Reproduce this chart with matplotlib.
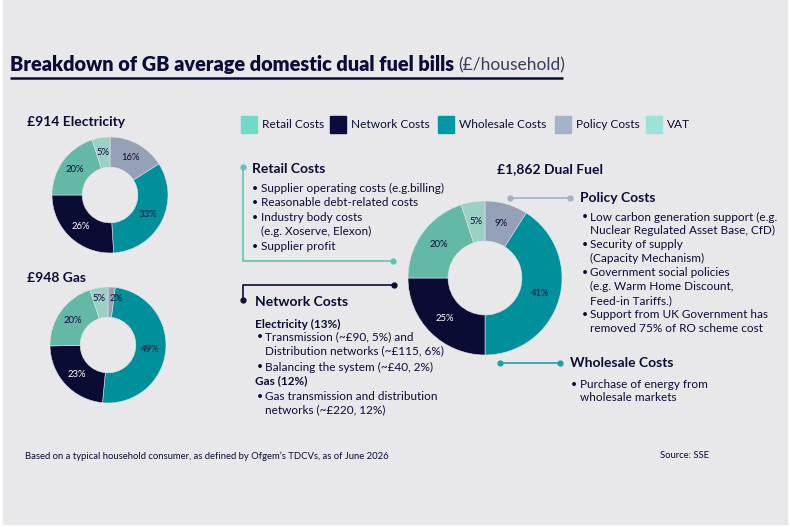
import matplotlib.pyplot as plt
from matplotlib.patches import Rectangle

plt.rcParams['font.family'] = ['Lato', 'DejaVu Sans']

W, H = 790, 527
NAVY = '#0b0c36'

# data, clockwise from 12 o'clock
categories = ['Policy Costs', 'Wholesale Costs', 'Network Costs', 'Retail Costs', 'VAT']
electricity = [16, 33, 26, 20, 5]
gas = [2, 49, 23, 20, 5]
dual_fuel = [9, 41, 25, 20, 5]
wedge_colors = ['#95a1b6', '#00909c', '#0b0c33', '#64b9a6', '#9cd0c5']

legend_labels = ['Retail Costs', 'Network Costs', 'Wholesale Costs', 'Policy Costs', 'VAT']
legend_colors = ['#6fdac8', '#0b0b42', '#0098a6', '#a4b3c9', '#9de2d6']

retail_items = ['Supplier operating costs (e.g.billing)',
                'Reasonable debt-related costs',
                'Industry body costs\n(e.g. Xoserve, Elexon)',
                'Supplier profit']
policy_items = ['Low carbon generation support (e.g.\nNuclear Regulated Asset Base, CfD)',
                'Security of supply\n(Capacity Mechanism)',
                'Government social policies\n(e.g. Warm Home Discount,\nFeed-in Tariffs.)',
                'Support from UK Government has\nremoved 75% of RO scheme cost']
wholesale_items = ['Purchase of energy from\nwholesale markets']

fig = plt.figure(figsize=(W / 100, H / 100), dpi=100, facecolor='white')
ax = fig.add_axes([0, 0, 1, 1])
ax.set_xlim(0, W)
ax.set_ylim(H, 0)
ax.axis('off')
ax.add_patch(Rectangle((3, 0), 784, 524, color='#e8e8ea', zorder=0))


def donut(cx, cy, r, values):
    dax = fig.add_axes([(cx - r) / W, 1 - (cy + r) / H, 2 * r / W, 2 * r / H])
    wedges, texts, autotexts = dax.pie(
        values, colors=wedge_colors, startangle=90, counterclock=False,
        wedgeprops=dict(width=0.52, edgecolor='#dfe3e6', linewidth=0.4),
        autopct='%1.0f%%', pctdistance=0.74,
        textprops=dict(fontsize=6.8, color=NAVY))
    for t, v in zip(autotexts, values):
        t.set_text(f'{v}%')
    autotexts[2].set_color('white')
    dax.set_xlim(-1, 1)
    dax.set_ylim(-1, 1)
    return dax, autotexts


def bullets(x, y, items, step=14, gap=0.5, size=8.5, indent=9):
    for item in items:
        ax.text(x, y, '\u2022', fontsize=size - 1, color=NAVY, va='center')
        lines = item.split('\n')
        for line in lines:
            ax.text(x + indent, y, line, fontsize=size, color=NAVY, va='center')
            y += step
        y += gap
    return y


# title
title = ax.text(10, 65, 'Breakdown of GB average domestic dual fuel bills', fontsize=14.3,
                fontweight='heavy', color=NAVY, va='center')
ax.annotate('(\u00a3/household)', xy=(1, 0.5), xycoords=title, xytext=(3, 0),
            textcoords='offset points', fontsize=12.5, color='#3a3d5c', va='center')
ax.plot([10, 563], [78, 78], color=NAVY, lw=1.8, solid_capstyle='butt')

# small donuts
ax.text(27, 122, '\u00a3914 Electricity', fontsize=10, fontweight='bold', color=NAVY, va='center')
donut(110, 195, 58, electricity)
ax.text(27, 278, '\u00a3948 Gas', fontsize=10, fontweight='bold', color=NAVY, va='center')
gax, gtexts = donut(108, 345, 58, gas)
# the two thin wedges at the top are labelled side by side
gtexts[0].set_position((0.14, 0.8))
gtexts[4].set_position((-0.15, 0.8))

# legend
lx = [241, 330, 438, 555, 646]
for x, lab, col in zip(lx, legend_labels, legend_colors):
    ax.add_patch(Rectangle((x, 116), 16, 17, color=col))
    ax.text(x + 21, 124.5, lab, fontsize=8.6, color=NAVY, va='center')

# dual fuel donut
ax.text(497, 169, '\u00a31,862 Dual Fuel', fontsize=10, fontweight='bold', color=NAVY, va='center')
donut(485, 278, 77, dual_fuel)

# retail costs
ax.plot([243, 243, 393], [167, 261, 261], color='#62c2b2', lw=1.2)
ax.plot([243, 393], [167, 261], 'o', color='#62c2b2', ms=3.5)
ax.text(252, 169, 'Retail Costs', fontsize=10, fontweight='bold', color=NAVY, va='center')
bullets(252, 188, retail_items, step=14.3, gap=0.5)

# policy costs
ax.plot([510, 570], [198, 198], color='#a4b0c4', lw=1.2)
ax.plot([510, 570], [198, 198], 'o', color='#a4b0c4', ms=3.5)
ax.text(580, 198, 'Policy Costs', fontsize=10, fontweight='bold', color=NAVY, va='center')
bullets(582, 217, policy_items, step=13.8, gap=0.3, indent=8)

# network costs
ax.plot([394, 243, 243], [285, 285, 300], color=NAVY, lw=1.2)
ax.plot([394, 243], [285, 300], 'o', color=NAVY, ms=3.5)
ax.text(255, 302, 'Network Costs', fontsize=10, fontweight='bold', color=NAVY, va='center')
ax.text(255, 324, 'Electricity (13%)', fontsize=8.5, fontweight='bold', color=NAVY, va='center')
bullets(257, 337, ['Transmission (~\u00a390, 5%) and\nDistribution networks (~\u00a3115, 6%)'],
        step=13.5, indent=8)
bullets(257, 367, ['Balancing the system (~\u00a340, 2%)'], indent=8)
ax.text(255, 381, 'Gas (12%)', fontsize=8.5, fontweight='bold', color=NAVY, va='center')
bullets(257, 396, ['Gas transmission and distribution\nnetworks (~\u00a3220, 12%)'],
        step=13.5, indent=8)

# wholesale costs
ax.plot([500, 560], [363, 363], color='#17a3ad', lw=1.2)
ax.plot([500, 560], [363, 363], 'o', color='#17a3ad', ms=3.5)
ax.text(570, 363, 'Wholesale Costs', fontsize=10, fontweight='bold', color=NAVY, va='center')
bullets(571, 384, wholesale_items, step=13.5, indent=9)

# footer
ax.text(25, 456, 'Based on a typical household consumer, as defined by Ofgem\u2019s TDCVs, as of June 2026',
        fontsize=6.8, color=NAVY, va='center')
ax.text(660, 456, 'Source: SSE', fontsize=6.8, color=NAVY, va='center')

fig.savefig('out.png', dpi=100, facecolor='white')
